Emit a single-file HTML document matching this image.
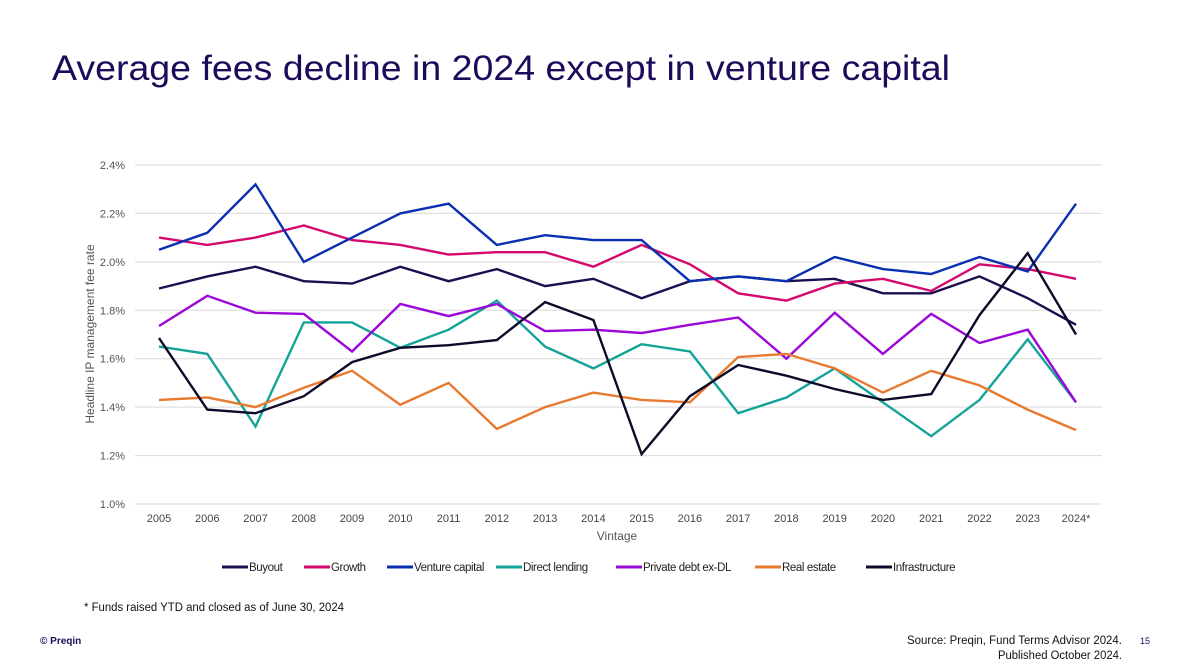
<!DOCTYPE html>
<html><head><meta charset="utf-8"><style>
html,body{margin:0;padding:0;background:#fff;}
svg{display:block;font-family:"Liberation Sans",sans-serif;}
</style></head><body>
<svg id="chart" width="1200" height="672" viewBox="0 0 1200 672">
<text x="52" y="80" font-size="35" fill="#1e0a5a" textLength="898" lengthAdjust="spacingAndGlyphs">Average fees decline in 2024 except in venture capital</text>
<g id="grid"></g>
<g id="yticks"></g>
<g id="xticks"></g>
<text transform="translate(94,334) rotate(-90)" text-anchor="middle" font-size="12" fill="#555">Headline IP management fee rate</text>
<text x="617" y="540" text-anchor="middle" font-size="12" fill="#555">Vintage</text>
<g id="series"></g>
<g id="legend"></g>
<text x="84" y="611" font-size="11.5" fill="#111" textLength="260" lengthAdjust="spacingAndGlyphs">* Funds raised YTD and closed as of June 30, 2024</text>
<text x="40" y="644" font-size="10" font-weight="bold" fill="#1e0a5a">© Preqin</text>
<text x="1122" y="644" text-anchor="end" font-size="11.5" fill="#111" textLength="215" lengthAdjust="spacingAndGlyphs">Source: Preqin, Fund Terms Advisor 2024.</text>
<text x="1122" y="659" text-anchor="end" font-size="11.5" fill="#111" textLength="124" lengthAdjust="spacingAndGlyphs">Published October 2024.</text>
<text x="1150" y="644" text-anchor="end" font-size="9" fill="#1e0a5a">15</text>
</svg>
<script>
const categories=["2005","2006","2007","2008","2009","2010","2011","2012","2013","2014","2015","2016","2017","2018","2019","2020","2021","2022","2023","2024*"];
const yTicks=[1.0,1.2,1.4,1.6,1.8,2.0,2.2,2.4];
const seriesNames=["Buyout","Growth","Venture capital","Direct lending","Private debt ex-DL","Real estate","Infrastructure"];
const seriesColors=["#1a1050","#d4086e","#0a2fb0","#14a398","#9b08d8","#e87a30","#0c0c2a"];
const buyout=[1.89,1.94,1.98,1.92,1.91,1.98,1.92,1.97,1.90,1.93,1.85,1.92,1.94,1.92,1.93,1.87,1.87,1.94,1.85,1.74];
const growth=[2.10,2.07,2.10,2.15,2.09,2.07,2.03,2.04,2.04,1.98,2.07,1.99,1.87,1.84,1.91,1.93,1.88,1.99,1.97,1.93];
const venture=[2.05,2.12,2.32,2.00,2.10,2.20,2.24,2.07,2.11,2.09,2.09,1.92,1.94,1.92,2.02,1.97,1.95,2.02,1.96,2.24];
const directLending=[1.65,1.62,1.32,1.75,1.75,1.645,1.72,1.84,1.65,1.56,1.66,1.63,1.375,1.44,1.56,1.42,1.28,1.43,1.68,1.42];
const privateDebt=[1.735,1.86,1.79,1.785,1.63,1.826,1.776,1.826,1.714,1.72,1.706,1.74,1.77,1.60,1.79,1.62,1.785,1.665,1.72,1.42];
const realEstate=[1.43,1.44,1.40,1.48,1.55,1.41,1.50,1.31,1.40,1.46,1.43,1.42,1.607,1.62,1.56,1.46,1.55,1.49,1.39,1.305];
const infrastructure=[1.685,1.39,1.375,1.445,1.586,1.645,1.656,1.677,1.834,1.76,1.206,1.445,1.574,1.53,1.475,1.43,1.454,1.78,2.036,1.70];
const allSeries=[buyout,growth,venture,directLending,privateDebt,realEstate,infrastructure];

const NS="http://www.w3.org/2000/svg";
const X0=159,X1=1076,Y0=504,Y1=165,VMIN=1.0,VMAX=2.4;
const xs=i=>X0+(X1-X0)*i/(categories.length-1);
const ys=v=>Y0-(v-VMIN)/(VMAX-VMIN)*(Y0-Y1);
function mk(tag,attrs,parent){const e=document.createElementNS(NS,tag);for(const k in attrs)e.setAttribute(k,attrs[k]);parent.appendChild(e);return e;}
const grid=document.getElementById('grid'),yt=document.getElementById('yticks'),xt=document.getElementById('xticks');
yTicks.forEach(v=>{
  const l=mk('line',{x1:135,x2:1102,y1:ys(v),y2:ys(v),stroke:'#d9d9d9','stroke-width':1},grid);
  
  
  const t=mk('text',{x:125,y:ys(v)+4,'text-anchor':'end','font-size':11,fill:'#555'},yt);
  t.textContent=v.toFixed(1)+'%';
  
  
});
categories.forEach((c,i)=>{
  const t=mk('text',{x:xs(i),y:522,'text-anchor':'middle','font-size':11,fill:'#444'},xt);
  t.textContent=c;
  
  
});
const sg=document.getElementById('series');
allSeries.forEach((s,k)=>{
  const pts=s.map((v,i)=>xs(i).toFixed(1)+','+ys(v).toFixed(1)).join(' ');
  const p=mk('polyline',{points:pts,fill:'none',stroke:seriesColors[k],'stroke-width':2.4,'stroke-linejoin':'miter'},sg);
  
  
});
const lg=document.getElementById('legend');
const legX=[222,304,387,496,616,755,866];
seriesNames.forEach((n,k)=>{
  const g=mk('g',{},lg);
  
  
  mk('line',{x1:legX[k],x2:legX[k]+26,y1:567,y2:567,stroke:seriesColors[k],'stroke-width':3},g);
  const t=mk('text',{x:legX[k]+27,y:571,'font-size':11.5,fill:'#222','letter-spacing':-0.4},g);
  t.textContent=n;
});
</script>
</body></html>
